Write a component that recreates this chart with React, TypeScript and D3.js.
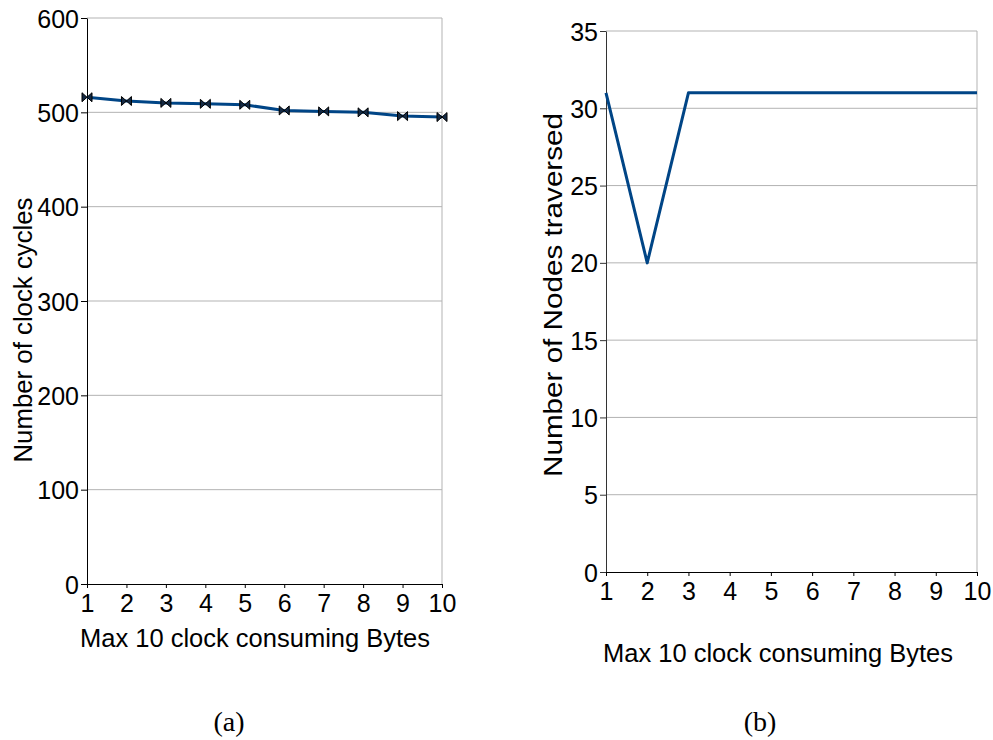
import React, { useRef, useEffect } from 'react';
import * as d3 from 'd3';

// Panel (a): clock cycles per byte position
const bytePositions = [1, 2, 3, 4, 5, 6, 7, 8, 9, 10];
const clockCycles = [516, 512, 510, 509, 508, 502, 501, 500, 496, 495];
const cycleTicks = [0, 100, 200, 300, 400, 500, 600];

// Panel (b): nodes traversed per byte position
const nodesTraversed = [31, 20, 31, 31, 31, 31, 31, 31, 31, 31];
const nodeTicks = [0, 5, 10, 15, 20, 25, 30, 35];

const xTitle = 'Max 10 clock consuming Bytes';
const LINE = '#004586';
const GRID = '#b3b3b3';
const FONT = '"Liberation Sans", Arial, sans-serif';

function drawPanel(svg, opts) {
  const { x0, x1, y0, y1, yMax, yTicks, values, yTitle, yTitlePos, yTitleLen, xTitleX, xTitleY, markers, axisColor } = opts;
  const x = d3.scaleLinear().domain([1, 10]).range([x0, x1]);
  const y = d3.scaleLinear().domain([0, yMax]).range([y0, y1]);
  const g = svg.append('g');

  // horizontal grid lines
  g.selectAll('.grid')
    .data(yTicks.filter(t => t > 0))
    .enter().append('line')
    .attr('x1', x0).attr('x2', x1)
    .attr('y1', d => y(d)).attr('y2', d => y(d))
    .attr('stroke', GRID).attr('stroke-width', 1);

  // right border
  g.append('line')
    .attr('x1', x1).attr('x2', x1)
    .attr('y1', y1).attr('y2', y0)
    .attr('stroke', GRID).attr('stroke-width', 1);

  // y axis
  const yAxis = g.append('g')
    .attr('transform', `translate(${x0},0)`)
    .call(d3.axisLeft(y).tickValues(yTicks).tickSize(6).tickPadding(2).tickSizeOuter(0));
  yAxis.select('.domain').attr('stroke', axisColor);
  yAxis.selectAll('line').attr('stroke', axisColor);
  yAxis.selectAll('text')
    .attr('font-family', FONT).attr('font-size', 25).attr('fill', '#000')
    .attr('dy', '0.36em');

  // x axis
  const xAxis = g.append('g')
    .attr('transform', `translate(0,${y0})`)
    .call(d3.axisBottom(x).tickValues(bytePositions).tickSize(4).tickPadding(6).tickSizeOuter(0));
  xAxis.select('.domain').attr('stroke', '#000');
  xAxis.selectAll('line').attr('stroke', '#000');
  xAxis.selectAll('text')
    .attr('font-family', FONT).attr('font-size', 25).attr('fill', '#000');

  // data line
  const line = d3.line<number>()
    .x((_, i) => x(bytePositions[i]))
    .y(d => y(d));
  g.append('path')
    .datum(values)
    .attr('fill', 'none')
    .attr('stroke', LINE)
    .attr('stroke-width', 3)
    .attr('stroke-linejoin', 'round')
    .attr('d', line);

  if (markers) {
    g.selectAll('.mk')
      .data(values)
      .enter().append('path')
      .attr('transform', (d, i) => `translate(${x(bytePositions[i])},${y(d)})`)
      .attr('d', 'M-5,-4.5 L5,4.5 L5,-4.5 L-5,4.5 Z')
      .attr('fill', '#142a45')
      .attr('stroke', '#000')
      .attr('stroke-width', 1);
  }

  // titles
  const yt = g.append('text')
    .attr('transform', `translate(${yTitlePos[0]},${yTitlePos[1]}) rotate(-90)`)
    .attr('text-anchor', 'middle')
    .attr('font-family', FONT).attr('font-size', 25.5).attr('fill', '#000')
    .text(yTitle);
  if (yTitleLen) yt.attr('textLength', yTitleLen).attr('lengthAdjust', 'spacingAndGlyphs');

  g.append('text')
    .attr('x', xTitleX)
    .attr('y', xTitleY)
    .attr('text-anchor', 'middle')
    .attr('font-family', FONT).attr('font-size', 25.5).attr('fill', '#000')
    .text(xTitle);
}

export default function App() {
  const svgRef = useRef(null);

  useEffect(() => {
    if (!svgRef.current) return;
    const svg = d3.select(svgRef.current);
    svg.selectAll('*').remove();

    drawPanel(svg, {
      x0: 87, x1: 442, y0: 584, y1: 18, yMax: 600,
      yTicks: cycleTicks, values: clockCycles,
      yTitle: 'Number of clock cycles', yTitlePos: [32, 330], yTitleLen: 265,
      xTitleX: 255, xTitleY: 647, markers: true, axisColor: '#000'
    });

    drawPanel(svg, {
      x0: 606, x1: 977, y0: 572, y1: 31, yMax: 35,
      yTicks: nodeTicks, values: nodesTraversed,
      yTitle: 'Number of Nodes traversed', yTitlePos: [562, 295], yTitleLen: 364,
      xTitleX: 778, xTitleY: 662, markers: false, axisColor: '#333'
    });

    svg.selectAll('.cap')
      .data([{ t: '(a)', x: 229 }, { t: '(b)', x: 760 }])
      .enter().append('text')
      .attr('x', d => d.x)
      .attr('y', 731)
      .attr('text-anchor', 'middle')
      .attr('font-family', '"Liberation Serif", "DejaVu Serif", serif')
      .attr('font-size', 28)
      .attr('fill', '#000')
      .text(d => d.t);
  }, []);

  return (
    <svg
      ref={svgRef}
      width={993}
      height={740}
      style={{ position: 'absolute', left: 0, top: 0, background: '#fff' }}
    />
  );
}
